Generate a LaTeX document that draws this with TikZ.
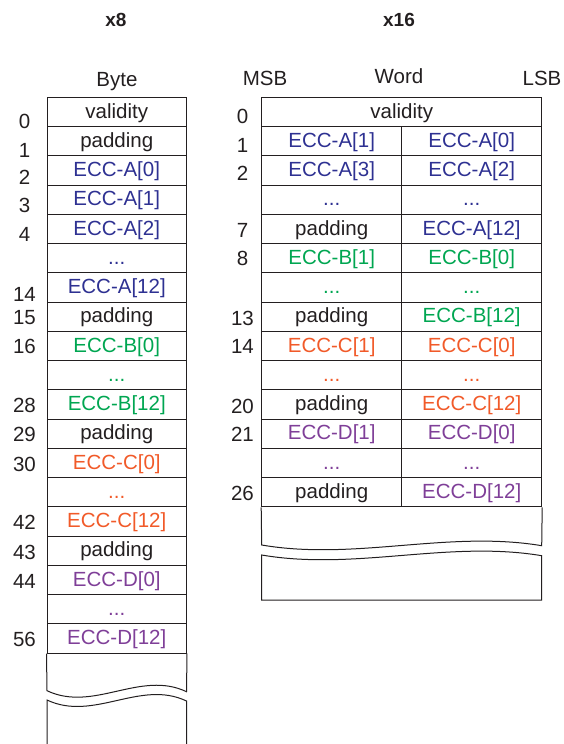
\documentclass[tikz,border=0pt]{standalone}
\usepackage{fontspec}
\setmainfont{Liberation Sans}
\definecolor{ink}{HTML}{231F20}
\definecolor{ecca}{HTML}{2E3192}
\definecolor{eccb}{HTML}{00A651}
\definecolor{eccc}{HTML}{F15A29}
\definecolor{eccd}{HTML}{7F3F98}
\newcommand\myell{...}
\begin{document}
\begin{tikzpicture}[x=1pt,y=-1pt,
  font=\fontsize{20.5}{24}\selectfont,
  cell/.style={draw=ink, line width=1pt, minimum height=29.25pt, inner sep=0pt,
    text height=15.5pt, text depth=3pt, anchor=center},
  lcell/.style={cell, minimum width=139.5pt},
  wcell/.style={cell, minimum width=280pt},
  hcell/.style={cell, minimum width=140pt},
  idx/.style={text=ink, inner sep=0pt, anchor=center},
  head/.style={text=ink, inner sep=0pt, anchor=base},
  bhead/.style={head, font=\fontsize{19}{22}\selectfont\bfseries},
  frame/.style={draw=ink, line width=1pt}]
\useasboundingbox (0,0) rectangle (563,744);

% headers
\node[bhead] (h8) at (116,26.7) {x8};
\node[bhead] (h16) at (399,26.7) {x16};
\node[head] (byte) at (117,86.7) {Byte};
\node[head] (msb) at (265,85) {MSB};
\node[head] (word) at (399,83.3) {Word};
\node[head] (lsb) at (542,85) {LSB};

% left column (byte)
\foreach \k/\t/\c in {0/validity/ink, 1/padding/ink, 2/ECC-A[0]/ecca, 3/ECC-A[1]/ecca,
  4/ECC-A[2]/ecca, 5/\myell/ecca, 6/ECC-A[12]/ecca, 7/padding/ink, 8/ECC-B[0]/eccb,
  9/\myell/eccb, 10/ECC-B[12]/eccb, 11/padding/ink, 12/ECC-C[0]/eccc, 13/\myell/eccc,
  14/ECC-C[12]/eccc, 15/padding/ink, 16/ECC-D[0]/eccd, 17/\myell/eccd, 18/ECC-D[12]/eccd}
  \node[lcell, text=\c] (L\k) at (116.75, {111.925+29.25*\k}) {\t};

\foreach \n/\y in {0/121.5, 1/150.5, 2/177.5, 3/205.5, 4/234, 14/294, 15/317.5, 16/346.5,
  28/405, 29/434.5, 30/464, 42/522.5, 43/552, 44/581, 56/639}
  \node[idx] (li\n) at (24.5,\y) {\n};

% left tail with break
\draw[frame] (L18.south west) -- (47,690.7)
  .. controls (93.7,712.7) and (140.3,669.7) .. (186.5,691.7) -- (L18.south east);
\draw[frame] (47,744) -- (47,700)
  .. controls (93.7,722) and (140.3,679) .. (186.5,701) -- (186.5,744);

% right column (word)
\node[wcell, text=ink] (R0) at (401.7,111.925) {validity};
\foreach \k/\a/\ca/\b/\cb in {1/ECC-A[1]/ecca/ECC-A[0]/ecca, 2/ECC-A[3]/ecca/ECC-A[2]/ecca,
  3/\myell/ecca/\myell/ecca, 4/padding/ink/ECC-A[12]/ecca, 5/ECC-B[1]/eccb/ECC-B[0]/eccb,
  6/\myell/eccb/\myell/eccb, 7/padding/ink/ECC-B[12]/eccb, 8/ECC-C[1]/eccc/ECC-C[0]/eccc,
  9/\myell/eccc/\myell/eccc, 10/padding/ink/ECC-C[12]/eccc, 11/ECC-D[1]/eccd/ECC-D[0]/eccd,
  12/\myell/eccd/\myell/eccd, 13/padding/ink/ECC-D[12]/eccd}
{
  \node[hcell, text=\ca] (R\k a) at (331.7, {111.925+29.25*\k}) {\a};
  \node[hcell, text=\cb] (R\k b) at (471.7, {111.925+29.25*\k}) {\b};
}

\foreach \n/\y in {0/116.7, 1/145, 2/173, 7/230, 8/258, 13/318, 14/346.7, 20/406, 21/434, 26/493}
  \node[idx] (ri\n) at (242.5,\y) {\n};

% right tail with break
\draw[frame] (R13a.south west) -- (261.7,545)
  .. controls (355,561) and (448.3,530) .. (541.7,545.7) -- (R13b.south east);
\draw[frame] (261.7,555)
  .. controls (355,571) and (448.3,540) .. (541.7,555.7) -- (541.7,600) -- (261.7,600) -- cycle;
\end{tikzpicture}
\end{document}
